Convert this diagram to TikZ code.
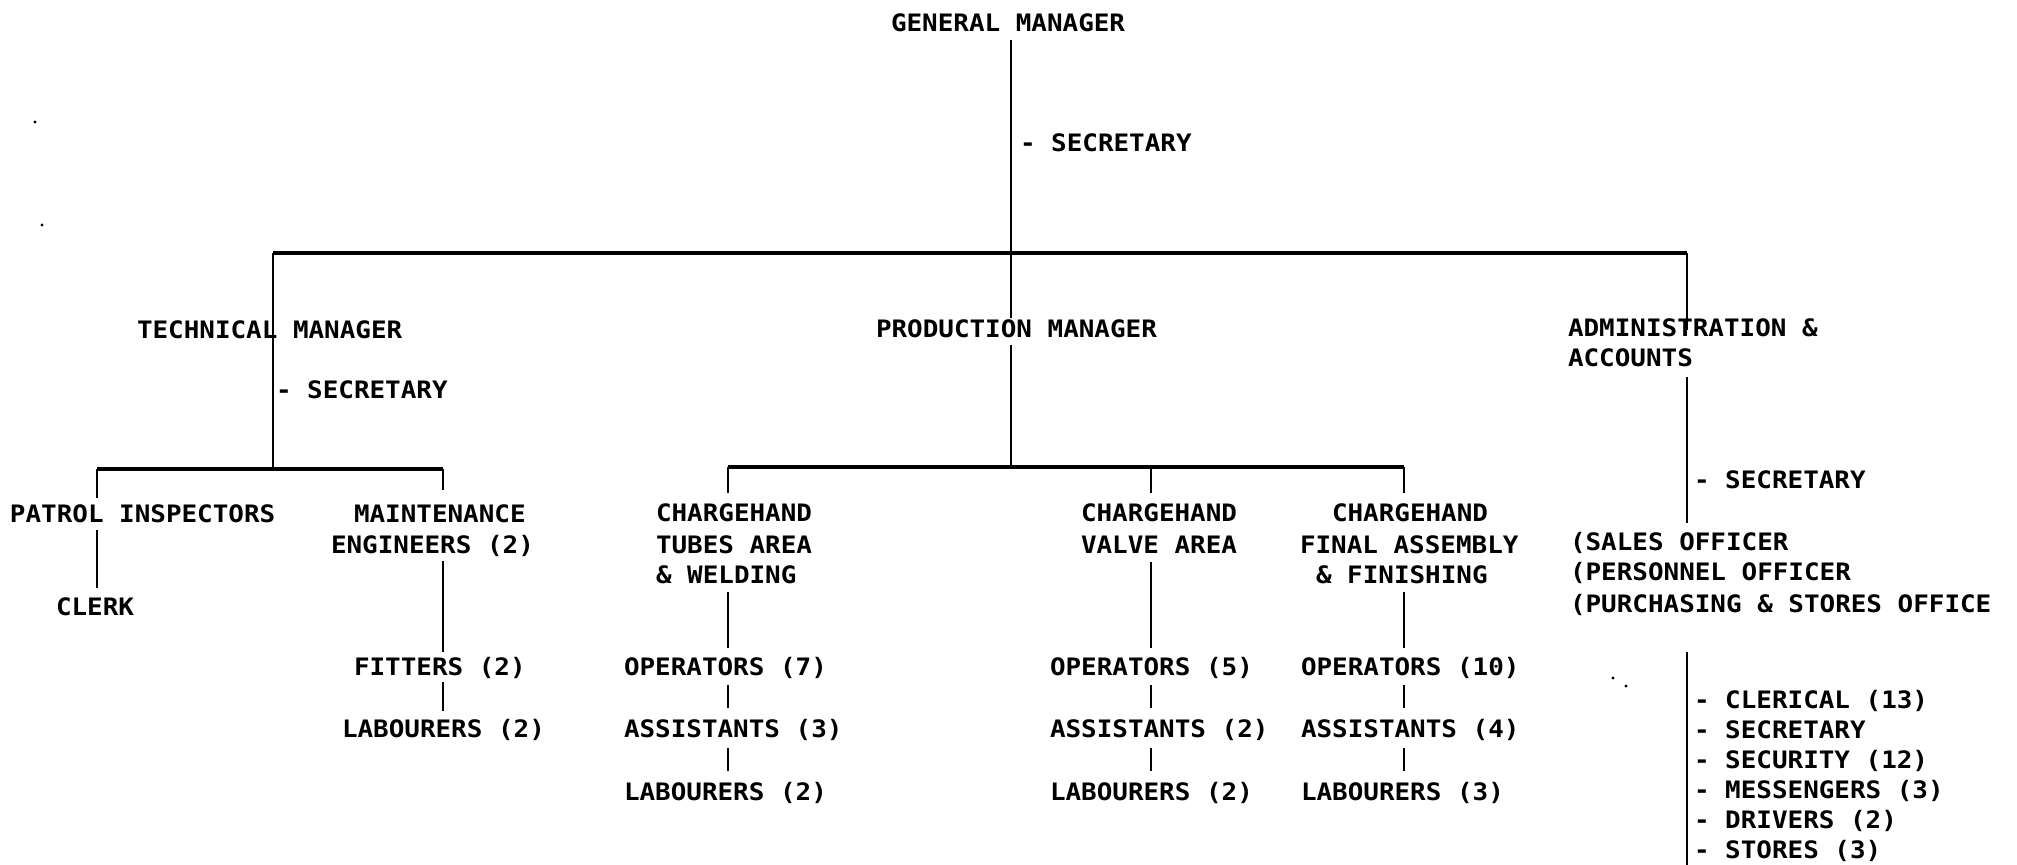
\documentclass[tikz,border=0pt]{standalone}
\usepackage{fontspec}
\newfontfamily\typefont[FakeStretch=1.08,BoldFont={DejaVu Sans Mono Bold}]{DejaVu Sans Mono}
\begin{document}
\begin{tikzpicture}[x=0.5pt,y=-0.5pt,
  txt/.style={anchor=base west,inner sep=0pt,outer sep=0pt,
              font=\typefont\bfseries\fontsize{12}{15}\selectfont},
  stem/.style={line width=1.25pt},
  bar/.style={line width=1.7pt},
  speck/.style={fill=black}]
\useasboundingbox (0,0) rectangle (2017,865);
\fill[white] (0,0) rectangle (2017,865);

% ---------- titles ----------
\node[txt] (gm)    at (891,32)  {GENERAL MANAGER};
\node[txt] (gmsec) at (1020,152) {- SECRETARY};

\node[txt] (tm)    at (137,339) {TECHNICAL MANAGER};
\node[txt] (tmsec) at (276,399) {- SECRETARY};
\node[txt] (pm)    at (876,338) {PRODUCTION MANAGER};
\node[txt] (adm1)  at (1568,337) {ADMINISTRATION \&};
\node[txt] (adm2)  at (1568,367) {ACCOUNTS};
\node[txt] (admsec) at (1694,488) {- SECRETARY};

% ---------- technical branch ----------
\node[txt] (patrol) at (10,523) {PATROL INSPECTORS};
\node[txt] (clerk)  at (56,615) {CLERK};
\node[txt] (maint1) at (354,523) {MAINTENANCE};
\node[txt] (maint2) at (331,553) {ENGINEERS (2)};
\node[txt] (fitters) at (354,675) {FITTERS (2)};
\node[txt] (labm)   at (342,737) {LABOURERS (2)};

% ---------- production branch ----------
\node[txt] (tub1) at (656,522) {CHARGEHAND};
\node[txt] (tub2) at (656,553) {TUBES AREA};
\node[txt] (tub3) at (656,583) {\& WELDING};
\node[txt] (optu) at (624,675) {OPERATORS (7)};
\node[txt] (astu) at (624,737) {ASSISTANTS (3)};
\node[txt] (latu) at (624,800) {LABOURERS (2)};

\node[txt] (val1) at (1081,522) {CHARGEHAND};
\node[txt] (val2) at (1081,553) {VALVE AREA};
\node[txt] (opva) at (1050,675) {OPERATORS (5)};
\node[txt] (asva) at (1050,737) {ASSISTANTS (2)};
\node[txt] (lava) at (1050,800) {LABOURERS (2)};

\node[txt] (fin1) at (1332,522) {CHARGEHAND};
\node[txt] (fin2) at (1300,553) {FINAL ASSEMBLY};
\node[txt] (fin3) at (1316,583) {\& FINISHING};
\node[txt] (opfi) at (1301,675) {OPERATORS (10)};
\node[txt] (asfi) at (1301,737) {ASSISTANTS (4)};
\node[txt] (lafi) at (1301,800) {LABOURERS (3)};

% ---------- administration branch ----------
\node[txt] (off1) at (1570,550) {(SALES OFFICER};
\node[txt] (off2) at (1570,581) {(PERSONNEL OFFICER};
\node[txt] (off3) at (1570,612) {(PURCHASING \& STORES OFFICE};
\node[txt] (st1) at (1694,708) {- CLERICAL (13)};
\node[txt] (st2) at (1694,738) {- SECRETARY};
\node[txt] (st3) at (1694,768) {- SECURITY (12)};
\node[txt] (st4) at (1694,798) {- MESSENGERS (3)};
\node[txt] (st5) at (1694,828) {- DRIVERS (2)};
\node[txt] (st6) at (1694,858) {- STORES (3)};

% ---------- connector points ----------
\coordinate (m0) at (1011,40);
\coordinate (m1) at (1011,318);
\coordinate (m2) at (1011,345);
\coordinate (b1L) at (273,253);
\coordinate (b1R) at (1687,253);
\coordinate (tbL) at (97,469);
\coordinate (tbR) at (443,469);
\coordinate (t1) at (273,469);
\coordinate (pbL) at (728,467);
\coordinate (pbV) at (1151,467);
\coordinate (pbR) at (1404,467);
\coordinate (pm0) at (1011,467);

\coordinate (p1) at (97,498);  \coordinate (p2) at (97,530);  \coordinate (p3) at (97,588);
\coordinate (mt1) at (443,490); \coordinate (mt2) at (443,561); \coordinate (mt3) at (443,652);
\coordinate (mt4) at (443,682); \coordinate (mt5) at (443,711);

\coordinate (tu1) at (728,493); \coordinate (tu2) at (728,592); \coordinate (tu3) at (728,648);
\coordinate (tu4) at (728,685); \coordinate (tu5) at (728,708);
\coordinate (tu6) at (728,748); \coordinate (tu7) at (728,771);

\coordinate (va1) at (1151,493); \coordinate (va2) at (1151,562); \coordinate (va3) at (1151,648);
\coordinate (va4) at (1151,685); \coordinate (va5) at (1151,708);
\coordinate (va6) at (1151,748); \coordinate (va7) at (1151,771);

\coordinate (fi1) at (1404,493); \coordinate (fi2) at (1404,592); \coordinate (fi3) at (1404,648);
\coordinate (fi4) at (1404,685); \coordinate (fi5) at (1404,708);
\coordinate (fi6) at (1404,748); \coordinate (fi7) at (1404,771);

\coordinate (ad1) at (1687,330); \coordinate (ad2) at (1687,377); \coordinate (ad3) at (1687,523);
\coordinate (ad4) at (1687,652); \coordinate (ad5) at (1687,865);

% ---------- horizontal bars ----------
\draw[bar] (b1L) -- (b1R);
\draw[bar] (tbL) -- (tbR);
\draw[bar] (pbL) -- (pbR);

% ---------- vertical stems ----------
\draw[stem] (m0) -- (m1);
\draw[stem] (m2) -- (pm0);
\draw[stem] (b1L) -- (t1);

\draw[stem] (tbL) -- (p1);
\draw[stem] (p2) -- (p3);
\draw[stem] (tbR) -- (mt1);
\draw[stem] (mt2) -- (mt3);
\draw[stem] (mt4) -- (mt5);

\draw[stem] (pbL) -- (tu1);
\draw[stem] (tu2) -- (tu3);
\draw[stem] (tu4) -- (tu5);
\draw[stem] (tu6) -- (tu7);

\draw[stem] (pbV) -- (va1);
\draw[stem] (va2) -- (va3);
\draw[stem] (va4) -- (va5);
\draw[stem] (va6) -- (va7);

\draw[stem] (pbR) -- (fi1);
\draw[stem] (fi2) -- (fi3);
\draw[stem] (fi4) -- (fi5);
\draw[stem] (fi6) -- (fi7);

\draw[stem] (b1R) -- (ad1);
\draw[stem] (ad2) -- (ad3);
\draw[stem] (ad4) -- (ad5);

% ---------- stray specks ----------
\fill[speck] (35,122) circle[radius=0.8pt];
\fill[speck] (42,225) circle[radius=0.8pt];
\fill[speck] (1613,678) circle[radius=0.8pt];
\fill[speck] (1626,686) circle[radius=0.8pt];
\end{tikzpicture}
\end{document}
